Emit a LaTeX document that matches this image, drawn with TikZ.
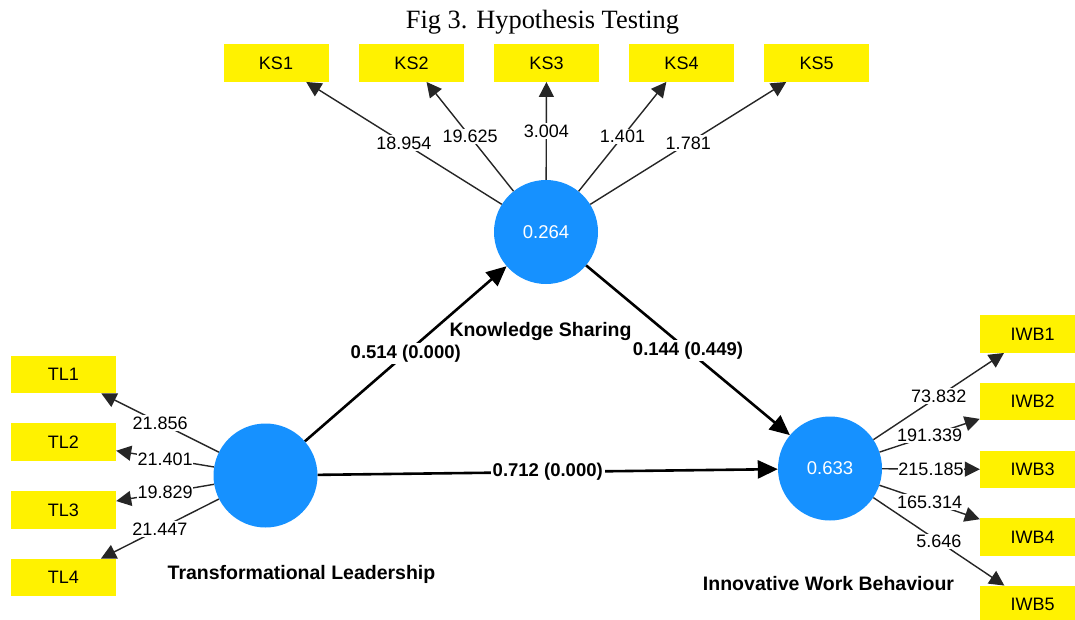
\documentclass[tikz,border=0pt]{standalone}
\usepackage{fontspec}
\setmainfont{Liberation Sans}
\newfontfamily\titlefont{Liberation Serif}
\usetikzlibrary{arrows.meta}
\definecolor{lvblue}{RGB}{22,145,255}
\begin{document}
\begin{tikzpicture}[x=1pt,y=-1pt,
  ind/.style={rectangle,fill=yellow,minimum width=105pt,minimum height=37.5pt,inner sep=0pt,font=\fontsize{18}{20}\selectfont},
  lv/.style={circle,fill=lvblue,minimum size=104pt,inner sep=0pt,text=white,font=\fontsize{18.5}{20}\selectfont},
  meas/.style={draw=black!85,line width=1.4pt,-{Triangle[length=15pt,width=15pt]}},
  struct/.style={draw=black,line width=2.6pt,-{Triangle[length=20pt,width=18pt]}},
  wlab/.style={fill=white,inner xsep=0.5pt,inner ysep=1.5pt,font=\fontsize{18}{20}\selectfont},
  plab/.style={fill=white,inner sep=2pt,font=\bfseries\fontsize{18.5}{20}\selectfont},
  lvname/.style={fill=white,inner sep=1pt,anchor=base,font=\bfseries\fontsize{19.5}{22}\selectfont}]
\useasboundingbox (0,0) rectangle (1075,619);
\clip (0,0) rectangle (1075,619);
\fill[white] (0,0) rectangle (1075,619);

\node[anchor=base,font=\titlefont\fontsize{26.4}{28}\selectfont] (title) at (542.5,28) {Fig 3. Hypothesis Testing};

% indicators
\node[ind] (KS1) at (276,63) {KS1};
\node[ind] (KS2) at (411.5,63) {KS2};
\node[ind] (KS3) at (546.5,63) {KS3};
\node[ind] (KS4) at (681.5,63) {KS4};
\node[ind] (KS5) at (816.5,63) {KS5};
\node[ind] (TL1) at (63.5,374.5) {TL1};
\node[ind] (TL2) at (63.5,442) {TL2};
\node[ind] (TL3) at (63.5,510) {TL3};
\node[ind] (TL4) at (63.5,577.5) {TL4};
\node[ind] (IWB1) at (1032.5,334) {IWB1};
\node[ind] (IWB2) at (1032.5,401.5) {IWB2};
\node[ind] (IWB3) at (1032.5,469.5) {IWB3};
\node[ind] (IWB4) at (1032.5,537) {IWB4};
\node[ind] (IWB5) at (1032.5,604.5) {IWB5};

% latent variables
\node[lv] (KS) at (546,232) {0.264};
\node[lv] (TL) at (265.5,475.5) {};
\node[lv] (IWB) at (830,468.5) {0.633};

% outer model
\draw[meas] (KS) -- node[wlab]{18.954} (KS1);
\draw[meas] (KS) -- node[wlab]{19.625} (KS2);
\draw[meas] (KS) -- node[wlab]{3.004} (KS3);
\draw[meas] (KS) -- node[wlab]{1.401} (KS4);
\draw[meas] (KS) -- node[wlab]{1.781} (KS5);
\draw[meas] (TL) -- node[wlab]{21.856} (TL1);
\draw[meas] (TL) -- node[wlab]{21.401} (TL2);
\draw[meas] (TL) -- node[wlab]{19.829} (TL3);
\draw[meas] (TL) -- node[wlab]{21.447} (TL4);
\draw[meas] (IWB) -- node[wlab]{73.832} (IWB1);
\draw[meas] (IWB) -- node[wlab]{191.339} (IWB2);
\draw[meas] (IWB) -- node[wlab]{215.185} (IWB3);
\draw[meas] (IWB) -- node[wlab]{165.314} (IWB4);
\draw[meas] (IWB) -- node[wlab]{5.646} (IWB5);

% inner model
\draw[struct] (TL) -- node[plab]{0.514 (0.000)} (KS);
\draw[struct] (KS) -- node[plab]{0.144 (0.449)} (IWB);
\draw[struct] (TL) -- node[plab]{0.712 (0.000)} (IWB);

% latent names
\node[lvname] (KSname) at (540.5,336.7) {Knowledge Sharing};
\node[lvname] (TLname) at (301.5,579.5) {Transformational Leadership};
\node[lvname] (IWBname) at (828.5,590.5) {Innovative Work Behaviour};
\end{tikzpicture}
\end{document}
